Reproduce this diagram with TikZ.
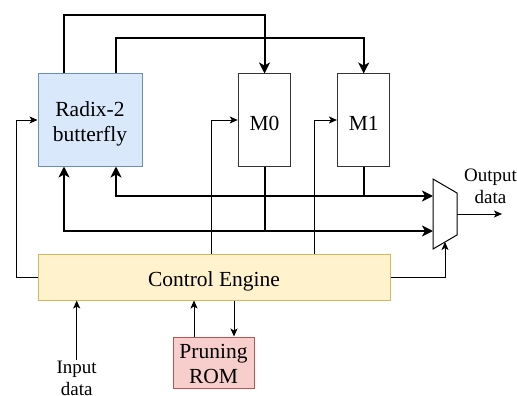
\documentclass[tikz,border=0pt]{standalone}
\usepackage{fontspec}
\setmainfont{Liberation Serif}
\usetikzlibrary{arrows.meta}
\begin{document}
\begin{tikzpicture}[x=1pt,y=-1pt,
  boxfont/.style={font=\fontsize{21.5}{25}\selectfont},
  lblfont/.style={font=\fontsize{19}{22}\selectfont},
  blk/.style={draw, line width=1pt, inner sep=0pt},
  thickline/.style={line width=2pt, line join=miter},
  thinline/.style={line width=1pt},
  bigtip/.style={-{Stealth[length=11pt,width=11pt,inset=3pt]}},
  bigtips/.style={{Stealth[length=11pt,width=11pt,inset=3pt]}-{Stealth[length=11pt,width=11pt,inset=3pt]}},
  smalltip/.style={-{Stealth[length=8pt,width=7pt,inset=2pt]}}
]
\useasboundingbox (0,0) rectangle (517,396);
\definecolor{bluefill}{HTML}{DAE8FC}\definecolor{blueline}{HTML}{6C8EBF}
\definecolor{yelfill}{HTML}{FFF2CC}\definecolor{yelline}{HTML}{D6B656}
\definecolor{redfill}{HTML}{F8CECC}\definecolor{redline}{HTML}{B85450}

% boxes
\node[blk, draw=blueline, fill=bluefill, minimum width=104pt, minimum height=92pt,
  label={[boxfont, align=center, yshift=-4pt]center:Radix-2\\butterfly}] (radix) at (90,120) {};
\node[blk, draw=black!80, minimum width=52.5pt, minimum height=92pt,
  label={[boxfont, yshift=-3pt]center:M0}] (m0) at (264.5,120) {};
\node[blk, draw=black!80, minimum width=52.5pt, minimum height=92pt,
  label={[boxfont, yshift=-3pt]center:M1}] (m1) at (363.7,120) {};
\node[blk, draw=yelline, fill=yelfill, minimum width=352pt, minimum height=46pt,
  label={[boxfont, yshift=-4pt]center:Control Engine}] (ce) at (214,277) {};
\node[blk, draw=redline, fill=redfill, minimum width=81pt, minimum height=51pt,
  label={[boxfont, align=center, yshift=-1pt]center:Pruning\\ROM}] (rom) at (213.5,362.5) {};

% mux
\coordinate (mux1) at (433,179);
\coordinate (mux2) at (457,193);
\coordinate (mux3) at (457,235);
\coordinate (mux4) at (433,249);
\draw[line width=1pt, line join=miter] (mux1) -- (mux2) -- (mux3) -- (mux4) -- cycle;
\coordinate (muxin1) at (433,196);
\coordinate (muxin2) at (433,231);
\coordinate (muxout) at (457,214);
\coordinate (muxsel) at (445,242);
\coordinate (outend) at (502,214);

% labels
\node[lblfont, align=center, inner sep=0pt] (outlbl) at (490.5,186) {Output\\data};
\node[lblfont, align=center, inner sep=0pt] (inlbl) at (76.7,378) {Input\\data};

% top thick connectors
\coordinate (t1) at (64,15);
\coordinate (t2) at (116,38);
\draw[thickline, bigtip] (radix.north -| t1) -- (t1) -| (m0.north);
\draw[thickline, bigtip] (radix.north -| t2) -- (t2) -| (m1.north);

% bottom thick connectors
\coordinate (b1) at (64,231);
\coordinate (b2) at (116,196);
\draw[thickline, bigtips] (radix.south -| b1) |- (muxin2);
\draw[thickline, bigtips] (radix.south -| b2) |- (muxin1);
\draw[thickline] (m0.south) -- (m0.south |- muxin2);
\draw[thickline] (m1.south) -- (m1.south |- muxin1);

% control connectors
\coordinate (l1) at (16,120);
\coordinate (c0) at (211,120);
\coordinate (c1) at (314,120);
\draw[thinline, smalltip] (ce.west) -| (l1) -- (radix.west);
\draw[thinline, smalltip] (ce.north -| c0) -- (c0) -- (m0.west);
\draw[thinline, smalltip] (ce.north -| c1) -- (c1) -- (m1.west);
\draw[thinline, smalltip] (ce.east) -| (muxsel);
\draw[thinline, smalltip] (muxout) -- (outend);
\draw[thinline, smalltip] (inlbl.north) -- (ce.south -| inlbl.north);
\coordinate (r1) at (194,0);
\coordinate (r2) at (234,0);
\draw[thinline, smalltip] (rom.north -| r1) -- (ce.south -| r1);
\draw[thinline, smalltip] (ce.south -| r2) -- (rom.north -| r2);
\end{tikzpicture}
\end{document}
